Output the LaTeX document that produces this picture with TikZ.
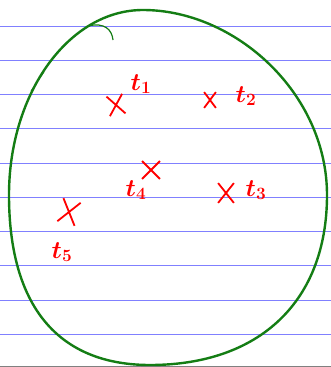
\documentclass[tikz,border=0pt]{standalone}
\usepackage{amsmath}
\usepackage{tikz}
\usetikzlibrary{shapes.misc}

\begin{document}
\begin{tikzpicture}[
    x=1pt, y=-1pt,
    rule/.style={draw={rgb,255:red,128;green,128;blue,255}, line width=1pt},
    blob/.style={draw={rgb,255:red,20;green,125;blue,20}, line width=2.4pt},
    xmark/.style={
        cross out,
        draw=red,
        line width=1.8pt,
        minimum width=14pt,
        minimum height=18pt,
        inner sep=0pt
    },
    lbl/.style={text=red, font=\fontsize{27}{27}\selectfont\boldmath, inner sep=0pt}
]
\useasboundingbox (0,0) rectangle (331,367);

% ruled paper
\foreach \yy in {26,60,94,128,163,197,231,265,300,334}
    \draw[rule] (0,\yy) -- (331,\yy);
\draw[gray, line width=1pt] (0,366.5) -- (331,366.5);

% the set
\draw[blob] (143,10) .. controls (235,10) and (327,93) .. (327,195)
    .. controls (327,301) and (260,365) .. (150,365)
    .. controls (58,365) and (9,306) .. (9,195)
    .. controls (9,93) and (69,10) .. cycle;
\draw[blob, line width=1.2pt] (88,26) .. controls (105,22) and (112,30) .. (113,40);
\draw[blob, line width=0.8pt] (31,91) -- (44,72);

% points
\node[xmark, rotate=10] (x1) at (116,105) {};
\node[xmark, minimum width=10pt, minimum height=14pt] (x2) at (210,100) {};
\node[xmark, minimum width=16pt, minimum height=16pt] (x4) at (151,170) {};
\node[xmark, minimum width=14pt, minimum height=18pt] (x3) at (226,193) {};
\node[xmark, rotate=-15, minimum width=16pt, minimum height=22pt] (x5) at (69,212) {};

% labels
\node[lbl] (t1) at (141,84) {$t_1$};
\node[lbl] (t2) at (246,96) {$t_2$};
\node[lbl] (t4) at (136,190) {$t_4$};
\node[lbl] (t3) at (256,190) {$t_3$};
\node[lbl] (t5) at (62,252) {$t_5$};

\end{tikzpicture}
\end{document}
